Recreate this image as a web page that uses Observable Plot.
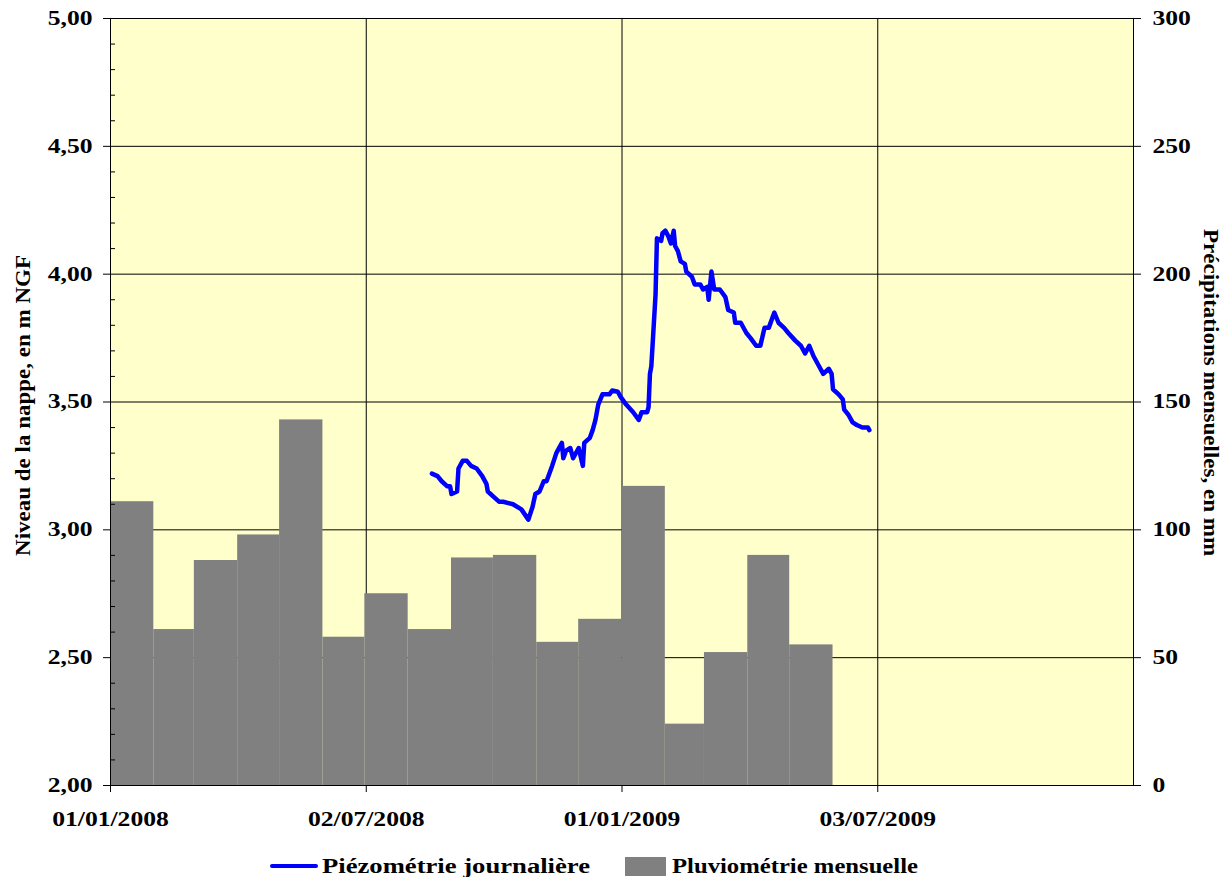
<!DOCTYPE html>
<html>
<head>
<meta charset="utf-8">
<script src="https://cdn.jsdelivr.net/npm/d3@7"></script>
<script src="https://cdn.jsdelivr.net/npm/@observablehq/plot@0.6"></script>
<style>
  body { margin: 0; background: white; }
  #legend { position: relative; width: 1228px; height: 32px; font-family: "Liberation Serif", serif; font-weight: bold; font-size: 20px; }
  #legend .sw-line { position: absolute; left: 270px; top: 19px; width: 48px; height: 4px; background: #0000ff; border-radius: 2px; }
  #legend .sw-box { position: absolute; left: 625px; top: 12px; width: 41px; height: 19px; background: #808080; }
  #legend .lbl { position: absolute; top: 9px; line-height: 24px; white-space: nowrap; transform-origin: 0 50%; }
</style>
</head>
<body>
<div id="chart"></div>
<div id="legend">
  <div class="sw-line"></div><div class="lbl" id="lg1" style="left:322px">Piézométrie journalière</div>
  <div class="sw-box"></div><div class="lbl" id="lg2" style="left:672px">Pluviométrie mensuelle</div>
</div>
<script>
// ---- Data ----
const rainMonths = ["2008-01","2008-02","2008-03","2008-04","2008-05","2008-06","2008-07","2008-08","2008-09","2008-10","2008-11","2008-12","2009-01","2009-02","2009-03","2009-04","2009-05"];
const rainMm = [111, 61, 88, 98, 143, 58, 75, 61, 89, 90, 56, 65, 117, 24, 52, 90, 55];

const piezoDates = [
  "2008-08-18","2008-08-22","2008-08-25","2008-08-29","2008-08-31","2008-09-01","2008-09-05","2008-09-06","2008-09-09","2008-09-12",
  "2008-09-15","2008-09-19","2008-09-23","2008-09-26","2008-09-27","2008-10-01","2008-10-05","2008-10-08","2008-10-15","2008-10-21",
  "2008-10-26","2008-10-29","2008-10-31","2008-11-03","2008-11-06","2008-11-08","2008-11-12","2008-11-15","2008-11-19","2008-11-20",
  "2008-11-22","2008-11-25","2008-11-27","2008-12-01","2008-12-04","2008-12-05","2008-12-09","2008-12-11","2008-12-13","2008-12-15",
  "2008-12-18","2008-12-23","2008-12-25","2008-12-29","2008-12-31","2009-01-04","2009-01-09","2009-01-13","2009-01-15","2009-01-19",
  "2009-01-20","2009-01-21","2009-01-22","2009-01-25","2009-01-26","2009-01-29","2009-01-30","2009-02-01","2009-02-03","2009-02-05",
  "2009-02-07","2009-02-08","2009-02-10","2009-02-12","2009-02-15","2009-02-16","2009-02-20","2009-02-22","2009-02-26","2009-02-28",
  "2009-03-03","2009-03-04","2009-03-06","2009-03-08","2009-03-12","2009-03-16","2009-03-18","2009-03-22","2009-03-23","2009-03-27",
  "2009-03-31","2009-04-03","2009-04-07","2009-04-10","2009-04-13","2009-04-16","2009-04-20","2009-04-23","2009-04-27","2009-04-30",
  "2009-05-05","2009-05-09","2009-05-12","2009-05-15","2009-05-18","2009-05-22","2009-05-25","2009-05-29","2009-05-31","2009-06-01",
  "2009-06-05","2009-06-08","2009-06-09","2009-06-12","2009-06-15","2009-06-18","2009-06-22","2009-06-26","2009-06-27"
];
const piezoLevels = [
  3.22,3.21,3.19,3.17,3.17,3.14,3.15,3.24,3.27,3.27,
  3.25,3.24,3.21,3.18,3.15,3.13,3.11,3.11,3.10,3.08,
  3.04,3.09,3.14,3.15,3.19,3.19,3.25,3.30,3.34,3.28,
  3.31,3.32,3.28,3.32,3.25,3.34,3.36,3.39,3.43,3.49,
  3.53,3.53,3.545,3.54,3.52,3.49,3.46,3.43,3.46,3.46,
  3.48,3.61,3.64,3.92,4.14,4.13,4.16,4.17,4.15,4.12,
  4.17,4.11,4.09,4.05,4.04,4.01,3.99,3.96,3.96,3.94,
  3.95,3.90,4.01,3.94,3.94,3.91,3.86,3.85,3.81,3.81,
  3.77,3.75,3.72,3.72,3.79,3.79,3.85,3.81,3.79,3.77,
  3.74,3.72,3.69,3.72,3.68,3.64,3.61,3.63,3.61,3.55,
  3.53,3.51,3.47,3.45,3.42,3.41,3.40,3.40,3.39
];

const xTickDates = ["2008-01-01","2008-07-02","2009-01-01","2009-07-03"];
const xTickLabels = ["01/01/2008","02/07/2008","01/01/2009","03/07/2009"];
const xDomain = ["2008-01-01","2010-01-02"];
const leftTicks = [2.0, 2.5, 3.0, 3.5, 4.0, 4.5, 5.0];
const rightTicks = [0, 50, 100, 150, 200, 250, 300];

const leftTitle = "Niveau de la nappe, en m NGF";
const rightTitle = "Précipitations mensuelles, en mm";

// ---- Derived tables ----
const leftMin = leftTicks[0], leftMax = leftTicks[leftTicks.length - 1];
const rightMax = rightTicks[rightTicks.length - 1];
const toLeft = mm => leftMin + mm / rightMax * (leftMax - leftMin);

const rain = rainMonths.map((m, i) => {
  const start = new Date(m + "-01");
  const end = new Date(Date.UTC(start.getUTCFullYear(), start.getUTCMonth() + 1, 1));
  return {start, end, mm: rainMm[i]};
});
const piezo = piezoDates.map((d, i) => ({date: new Date(d), level: piezoLevels[i]}));
const xTicks = xTickDates.map(d => new Date(d));
const labelOf = new Map(xTicks.map((d, i) => [+d, xTickLabels[i]]));
const minorTicks = d3.range(Math.round(leftMin * 10), Math.round(leftMax * 10) + 1)
  .map(k => k / 10).filter(v => !leftTicks.some(t => Math.abs(t - v) < 1e-9));
const rightPos = rightTicks.map(toLeft);
const rightLabelOf = new Map(rightPos.map((p, i) => [p.toFixed(4), String(rightTicks[i])]));

const chart = Plot.plot({
  width: 1228,
  height: 845,
  marginLeft: 110,
  marginRight: 95,
  marginTop: 18,
  marginBottom: 60,
  style: {fontFamily: "'Liberation Serif', serif", fontSize: "20px", fontWeight: "bold", background: "white", overflow: "visible", color: "black"},
  x: {type: "utc", domain: xDomain.map(d => new Date(d)), label: null},
  y: {domain: [leftMin, leftMax], label: null},
  marks: [
    Plot.frame({fill: "#ffffcc", stroke: null}),
    Plot.gridY(leftTicks, {stroke: "black", strokeOpacity: 1, strokeWidth: 1}),
    Plot.gridX(xTicks, {stroke: "black", strokeOpacity: 1, strokeWidth: 1}),
    Plot.rect(rain, {x1: "start", x2: "end", y1: () => leftMin, y2: d => toLeft(d.mm), fill: "#808080"}),
    Plot.line(piezo, {x: "date", y: "level", stroke: "#0000ff", strokeWidth: 4.5, strokeLinejoin: "round", strokeLinecap: "round"}),
    Plot.frame({stroke: "black", strokeWidth: 1}),
    Plot.axisY(leftTicks, {anchor: "left", tickSize: 7, tickPadding: 11, tickFormat: d => d.toFixed(2).replace(".", ","), fontSize: 20}),
    Plot.axisY(minorTicks, {anchor: "left", tickSize: 5, dx: 5, tickFormat: () => ""}),
    Plot.axisY(rightPos, {anchor: "right", tickSize: 7, tickPadding: 12, tickFormat: d => rightLabelOf.get(d.toFixed(4)), fontSize: 20}),
    Plot.axisX(xTicks, {anchor: "bottom", tickSize: 7, tickPadding: 19, tickFormat: d => labelOf.get(+d), fontSize: 21}),
    Plot.text([leftTitle], {frameAnchor: "left", textAnchor: "middle", rotate: -90, dx: -87, dy: 3.5, text: d => d, fontSize: 20, fontWeight: "bold"}),
    Plot.text([rightTitle], {frameAnchor: "right", textAnchor: "middle", rotate: 90, dx: 77, dy: -9.5, text: d => d, fontSize: 20, fontWeight: "bold"})
  ]
});
document.getElementById("chart").appendChild(chart);

// Widen glyphs horizontally to match the stretched rendering of the original
function stretch(selector, factor) {
  chart.querySelectorAll(selector).forEach(el => {
    const L = el.getComputedTextLength();
    if (L > 0) {
      el.setAttribute("textLength", (L * factor).toFixed(1));
      el.setAttribute("lengthAdjust", "spacingAndGlyphs");
    }
  });
}
stretch('g[aria-label="y-axis tick label"] text', 1.28);
stretch('g[aria-label="x-axis tick label"] text', 1.22);
stretch('g[aria-label="text"] text', 1.15);

function fitLegend(id, target) {
  const el = document.getElementById(id);
  const w = el.getBoundingClientRect().width;
  el.style.transform = `scaleX(${target / w})`;
}
fitLegend("lg1", 268);
fitLegend("lg2", 246);
</script>
</body>
</html>
